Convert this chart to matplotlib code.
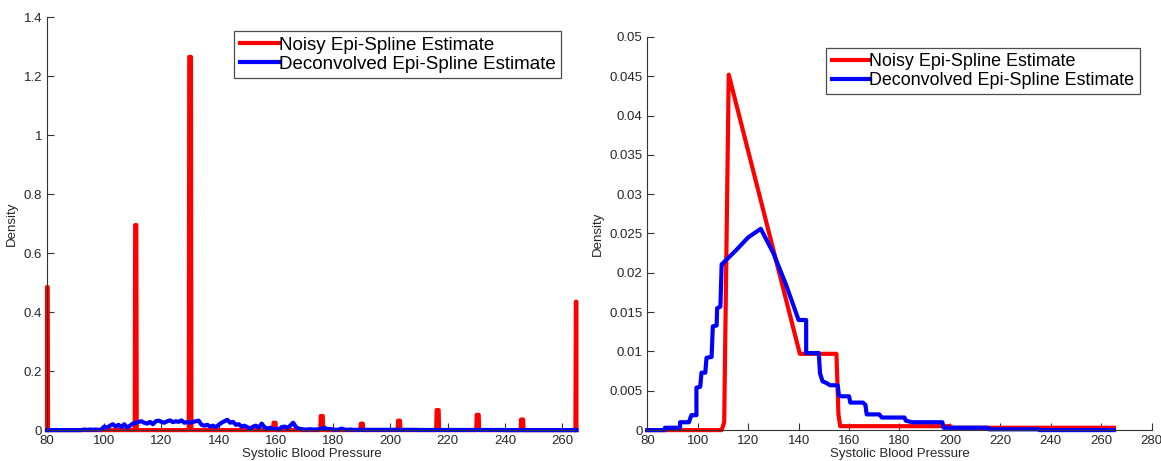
"""
Noisy vs deconvolved epi-spline density estimates of systolic blood pressure.
"""

import numpy as np
import matplotlib.pyplot as plt

plt.rcParams["font.family"] = ["Liberation Sans", "DejaVu Sans"]

NOISY_LABEL = "Noisy Epi-Spline Estimate"
DECONV_LABEL = "Deconvolved Epi-Spline Estimate"

# --- left panel: spiky estimate ---
spike_centers = [80.1, 111.0, 130.0, 159.5, 176.0, 190.0, 203.0, 216.5, 230.5, 246.0, 264.9]
spike_heights = [0.485, 0.695, 1.265, 0.025, 0.048, 0.022, 0.032, 0.068, 0.052, 0.036, 0.435]
spike_halfwidths = [0.1, 0.2, 0.3, 0.35, 0.35, 0.35, 0.35, 0.35, 0.35, 0.35, 0.1]

# deconvolved estimate sampled every 1 mmHg from 80 to 265
deconv_left_x = np.arange(80, 266)
deconv_left_y = np.array(
    [0.0] * 13
    + [0.002, 0.001, 0.002, 0.001, 0.002, 0.001, 0.002]          # 93-99
    + [0.012, 0.008, 0.015, 0.020, 0.012, 0.018, 0.010, 0.020, 0.008, 0.015]  # 100-109
    + [0.022, 0.025, 0.028, 0.030, 0.025, 0.022, 0.028, 0.020, 0.030, 0.032]  # 110-119
    + [0.028, 0.025, 0.030, 0.033, 0.027, 0.030, 0.028, 0.033, 0.025, 0.027]  # 120-129
    + [0.025, 0.028, 0.030, 0.032, 0.018, 0.015, 0.018, 0.012, 0.015, 0.010]  # 130-139
    + [0.018, 0.025, 0.030, 0.035, 0.025, 0.028, 0.018, 0.020, 0.012, 0.015]  # 140-149
    + [0.010, 0.005, 0.012, 0.015, 0.008, 0.022, 0.010, 0.005, 0.008, 0.003]  # 150-159
    + [0.005, 0.002, 0.010, 0.012, 0.008, 0.015, 0.025, 0.010, 0.005, 0.003]  # 160-169
    + [0.002, 0.002, 0.003, 0.002, 0.002, 0.003, 0.005, 0.008, 0.003, 0.004]  # 170-179
    + [0.002, 0.001, 0.002, 0.005, 0.002, 0.001, 0.002, 0.001, 0.001, 0.001]  # 180-189
    + [0.001] * 20                                                 # 190-209
    + [0.0005] * 30                                                # 210-239
    + [0.0] * 26                                                   # 240-265
)

# --- right panel: smooth estimates ---
noisy_right_x = [80, 109.5, 110.5, 112.3, 140.5, 155.0, 155.8, 156.5, 200.0, 201.0, 265.0]
noisy_right_y = [0.0, 0.0, 0.001, 0.0452, 0.0097, 0.0097, 0.002, 0.0005, 0.0005, 0.0003, 0.0003]

deconv_right_x = [80, 87, 87, 93, 93, 96.5, 97.5, 99.5, 99.5, 101, 101.5, 103,
                  103.5, 105.5, 106, 107.5, 107.7, 109, 109.5, 110, 110.2, 115,
                  120, 125, 130, 135, 140, 143, 143, 148, 148.5, 149.5, 151,
                  152.5, 155.5, 156, 157, 160, 160.5, 165.5, 166.5, 167, 172,
                  173, 182, 182.5, 185, 197, 197.5, 215, 215.5, 235, 235.5, 265]
deconv_right_y = [0.0, 0.0, 0.0003, 0.0003, 0.001, 0.001, 0.0019, 0.0019, 0.0054,
                  0.0055, 0.0073, 0.0073, 0.0092, 0.0093, 0.0132, 0.0133, 0.0155,
                  0.0157, 0.0211, 0.0211, 0.0213, 0.0228, 0.0245, 0.0256, 0.0225,
                  0.0185, 0.014, 0.014, 0.0098, 0.0098, 0.0072, 0.0062, 0.006,
                  0.0057, 0.0057, 0.0044, 0.0043, 0.0043, 0.0035, 0.0035, 0.0032,
                  0.002, 0.002, 0.0016, 0.0016, 0.0012, 0.001, 0.001, 0.0003,
                  0.0003, 0.0001, 0.0001, 0.0, 0.0]


def spike_line(centers, heights, halfwidths, x0=80, x1=265):
    xs, ys = [x0], [0.0]
    for c, h, w in zip(centers, heights, halfwidths):
        xs += [max(c - w - 0.15, x0), c - w, c + w, min(c + w + 0.15, x1)]
        ys += [0.0, h, h, 0.0]
    xs.append(x1)
    ys.append(0.0)
    order = np.argsort(xs, kind="stable")
    return np.array(xs)[order], np.array(ys)[order]


def style_axes(ax):
    for side in ("top", "right"):
        ax.spines[side].set_visible(False)
    for side in ("left", "bottom"):
        ax.spines[side].set_color("#333333")
        ax.spines[side].set_linewidth(0.8)
    ax.tick_params(direction="in", length=5, width=0.8, colors="#333333",
                   labelsize=9.5, labelcolor="#262626")
    ax.set_xlabel("Systolic Blood Pressure", fontsize=9.5, color="#262626", labelpad=1)
    ax.set_ylabel("Density", fontsize=9.5, color="#262626", labelpad=4)


def add_legend(ax, anchor, size):
    leg = ax.legend(loc="upper left", bbox_to_anchor=anchor, fontsize=size,
                    frameon=True, fancybox=False, handlelength=2.1,
                    handletextpad=0.0, borderpad=0.3, labelspacing=0.1,
                    borderaxespad=0.0)
    leg.get_frame().set_edgecolor("#222222")
    leg.get_frame().set_linewidth(0.9)


fig = plt.figure(figsize=(11.61, 4.61), dpi=100)

ax1 = fig.add_axes([0.0405, 0.067, 0.456, 0.896])
sx, sy = spike_line(spike_centers, spike_heights, spike_halfwidths)
ax1.plot(sx, sy, color="#ff0000", lw=3, label=NOISY_LABEL, clip_on=False)
ax1.plot(deconv_left_x, deconv_left_y, color="#0000ff", lw=3, label=DECONV_LABEL,
         clip_on=False)
ax1.set_xlim(80, 265)
ax1.set_ylim(0, 1.4)
ax1.set_xticks(np.arange(80, 261, 20))
ax1.set_yticks(np.arange(0, 1.41, 0.2))
ax1.set_yticklabels(["0", "0.2", "0.4", "0.6", "0.8", "1", "1.2", "1.4"])
style_axes(ax1)
add_legend(ax1, (0.353, 0.966), 13.5)

ax2 = fig.add_axes([0.5575, 0.067, 0.4345, 0.853])
ax2.plot(noisy_right_x, noisy_right_y, color="#ff0000", lw=3, label=NOISY_LABEL,
         clip_on=False)
ax2.plot(deconv_right_x, deconv_right_y, color="#0000ff", lw=3, label=DECONV_LABEL,
         clip_on=False)
ax2.set_xlim(80, 280)
ax2.set_ylim(0, 0.05)
ax2.set_xticks(np.arange(80, 281, 20))
ax2.set_yticks(np.arange(0, 0.0501, 0.005))
ax2.set_yticklabels(["0", "0.005", "0.01", "0.015", "0.02", "0.025",
                     "0.03", "0.035", "0.04", "0.045", "0.05"])
style_axes(ax2)
add_legend(ax2, (0.355, 0.972), 12.9)

fig.savefig("out.png", dpi=100)
